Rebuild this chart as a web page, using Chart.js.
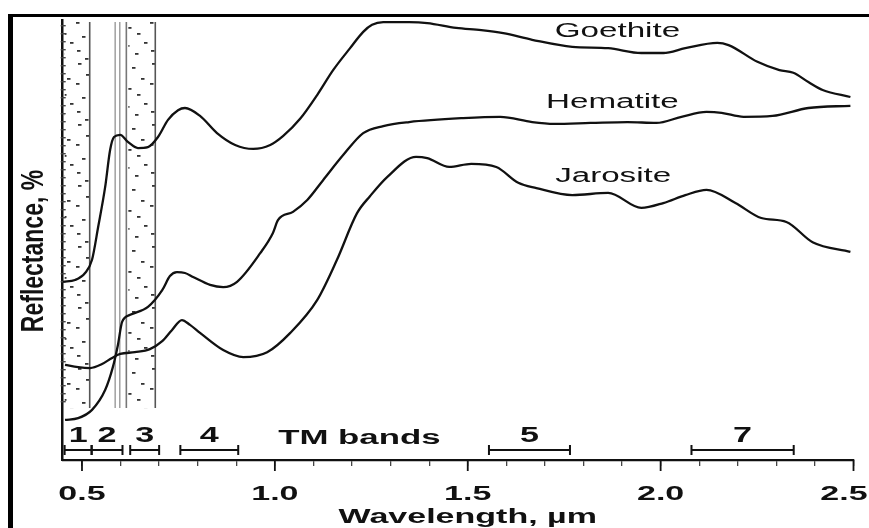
<!DOCTYPE html>
<html>
<head>
<meta charset="utf-8">
<title>Reflectance spectra of iron minerals</title>
<script src="https://cdn.jsdelivr.net/npm/chart.js@4.4.1/dist/chart.umd.min.js"></script>
<style>
    html, body { margin: 0; padding: 0; background: #fff; }
    #wrap { position: relative; width: 869px; height: 528px; overflow: hidden; }
    #frame {
        position: absolute; left: 8px; top: 14px; right: 0; bottom: 0;
        border-left: 5px solid #000; border-top: 3px solid #000;
        pointer-events: none;
    }
</style>
</head>
<body>
<div id="wrap">
    <canvas id="chart" width="869" height="528"></canvas>
    <div id="frame"></div>
</div>
<script>
// Spectra (wavelength in um, reflectance in relative units 0-100)
const goethiteWl = [0.451, 0.482, 0.508, 0.526, 0.542, 0.560, 0.573, 0.583, 0.599, 0.619, 0.645, 0.671, 0.697, 0.723, 0.749, 0.767, 0.806, 0.850, 0.897, 0.944, 0.988, 1.021, 1.066, 1.110, 1.151, 1.195, 1.229, 1.252, 1.281, 1.348, 1.395, 1.470, 1.535, 1.592, 1.667, 1.771, 1.864, 1.950, 2.007, 2.064, 2.147, 2.176, 2.251, 2.308, 2.344, 2.383, 2.420, 2.492];
const goethiteR = [40.5, 40.9, 42.5, 45.5, 53.0, 62.0, 70.5, 73.4, 73.9, 72.3, 70.9, 71.1, 73.4, 77.3, 79.5, 80.0, 78.2, 74.3, 71.6, 70.7, 71.6, 73.6, 77.6, 83.0, 88.6, 93.6, 97.3, 98.9, 99.5, 99.5, 99.3, 98.2, 97.7, 97.0, 95.5, 93.9, 93.6, 92.5, 92.5, 93.6, 94.8, 94.3, 90.5, 88.6, 88.0, 85.9, 84.1, 82.5];

const hematiteWl = [0.456, 0.490, 0.526, 0.560, 0.580, 0.593, 0.604, 0.625, 0.671, 0.708, 0.728, 0.746, 0.767, 0.788, 0.832, 0.866, 0.902, 0.962, 0.995, 1.008, 1.047, 1.084, 1.125, 1.177, 1.229, 1.281, 1.348, 1.488, 1.584, 1.667, 1.724, 1.818, 1.914, 1.989, 2.054, 2.119, 2.158, 2.215, 2.290, 2.383, 2.492];
const hematiteR = [9.1, 9.5, 11.4, 15.9, 21.1, 26.1, 31.4, 33.0, 34.8, 38.6, 41.8, 42.7, 42.5, 41.6, 39.8, 39.3, 40.5, 47.0, 51.6, 54.5, 56.4, 59.1, 63.6, 69.3, 74.3, 75.9, 76.8, 77.7, 78.0, 76.8, 76.4, 76.6, 76.8, 76.6, 78.0, 79.1, 78.9, 78.0, 78.2, 80.0, 80.5];

const jarositeWl = [0.456, 0.490, 0.521, 0.552, 0.578, 0.599, 0.637, 0.676, 0.708, 0.733, 0.759, 0.780, 0.806, 0.866, 0.918, 0.980, 1.040, 1.110, 1.161, 1.213, 1.247, 1.291, 1.366, 1.395, 1.452, 1.509, 1.574, 1.631, 1.678, 1.771, 1.864, 1.950, 2.007, 2.064, 2.119, 2.194, 2.261, 2.326, 2.394, 2.492];
const jarositeR = [21.6, 21.1, 20.9, 21.8, 23.2, 24.1, 24.5, 25.2, 27.0, 29.5, 31.8, 30.7, 28.9, 25.0, 23.4, 24.5, 28.9, 36.4, 45.5, 56.1, 60.0, 64.3, 68.9, 68.6, 66.6, 67.3, 66.6, 63.0, 61.8, 60.2, 60.7, 57.3, 58.4, 60.2, 61.4, 58.4, 55.0, 54.1, 49.5, 47.3];

const curveNames = ['Goethite', 'Hematite', 'Jarosite'];

// Landsat TM bands as marked under the curves
const tmBandNames = ['1', '2', '3', '4', '5', '7'];
const tmBandStart = [0.455, 0.525, 0.625, 0.755, 1.555, 2.080];
const tmBandEnd = [0.525, 0.605, 0.700, 0.905, 1.765, 2.345];

// Stippled (visible) bands and the thin guide lines between them
const stippleStart = [0.45, 0.615];
const stippleEnd = [0.52, 0.69];
const guideLines = [0.586, 0.598];

// Major tick labels of the wavelength axis
const majorTicks = [0.5, 1.0, 1.5, 2.0, 2.5];

const FONT = '"Liberation Sans", Arial, Helvetica, sans-serif';
const STRETCH = 1.7; // the figure is drawn wide, so text is stretched sideways

function toPoints(xs, ys) {
    return xs.map((v, i) => ({ x: v, y: ys[i] }));
}

function wideText(ctx, text, x, y, font, sx, align) {
    ctx.save();
    ctx.font = font;
    ctx.textAlign = align || 'center';
    ctx.textBaseline = 'alphabetic';
    ctx.translate(x, y);
    ctx.scale(sx, 1);
    ctx.fillText(text, 0, 0);
    ctx.restore();
}

function makeStipple(ctx) {
    // irregular tile so the dots do not line up in columns
    const tile = document.createElement('canvas');
    tile.width = 37;
    tile.height = 61;
    const t = tile.getContext('2d');
    t.fillStyle = '#333';
    [[4, 2], [21, 6], [12, 13], [30, 17], [2, 22], [17, 27], [26, 33],
     [8, 36], [33, 42], [15, 45], [3, 50], [24, 53], [11, 58]].forEach(d => {
        t.fillRect(d[0], d[1], 3.5, 1.8);
    });
    return ctx.createPattern(tile, 'repeat');
}

const spectraPlugin = {
    id: 'spectraDecor',
    beforeDatasetsDraw(chart) {
        const { ctx, chartArea, scales: { x, y } } = chart;
        const top = chartArea.top + 2;
        const bottom = y.getPixelForValue(11.8);

        ctx.save();
        // stippled bands
        ctx.fillStyle = makeStipple(ctx);
        stippleStart.forEach((s, i) => {
            const x0 = x.getPixelForValue(s);
            const x1 = x.getPixelForValue(stippleEnd[i]);
            ctx.fillRect(x0 + 2, top, x1 - x0 - 2, bottom - top);
        });

        // ruler-like nubs along the left edge
        ctx.fillStyle = '#444';
        for (let py = top + 3; py < bottom; py += 8) {
            ctx.fillRect(chartArea.left - 2, py, 5, 1.4);
        }

        // band edges
        ctx.lineWidth = 1.6;
        const edges = [stippleEnd[0], stippleStart[1], stippleEnd[1]];
        edges.forEach((v, i) => {
            ctx.strokeStyle = i === 1 ? '#777' : '#555';
            const px = x.getPixelForValue(v);
            ctx.beginPath();
            ctx.moveTo(px, top);
            ctx.lineTo(px, bottom);
            ctx.stroke();
        });
        ctx.strokeStyle = '#999';
        ctx.lineWidth = 1.4;
        guideLines.forEach(v => {
            const px = x.getPixelForValue(v);
            ctx.beginPath();
            ctx.moveTo(px, top);
            ctx.lineTo(px, bottom);
            ctx.stroke();
        });
        ctx.restore();
    },
    afterDraw(chart) {
        const { ctx, chartArea, scales: { x, y } } = chart;
        ctx.save();
        ctx.fillStyle = '#111';
        ctx.strokeStyle = '#111';

        // longer major ticks
        ctx.lineWidth = 1.8;
        majorTicks.forEach(v => {
            const px = x.getPixelForValue(v);
            ctx.beginPath();
            ctx.moveTo(px, chartArea.bottom);
            ctx.lineTo(px, chartArea.bottom + 11);
            ctx.stroke();
        });

        // tick labels
        majorTicks.forEach(v => {
            let px = x.getPixelForValue(v);
            px = Math.min(px, chart.width - 25);
            wideText(ctx, v.toFixed(1), px, chartArea.bottom + 40, 'bold 20px ' + FONT, STRETCH);
        });

        // axis titles
        wideText(ctx, 'Wavelength, \u00b5m', x.getPixelForValue(1.5), chartArea.bottom + 63, 'bold 20px ' + FONT, STRETCH);
        ctx.save();
        ctx.translate(43, y.getPixelForValue(47.5));
        ctx.rotate(-Math.PI / 2);
        ctx.scale(1, 1.35);
        ctx.font = 'bold 23px ' + FONT;
        ctx.textAlign = 'center';
        ctx.textBaseline = 'alphabetic';
        ctx.fillText('Reflectance, %', 0, 0);
        ctx.restore();

        // curve names
        const labelWl = [1.888, 1.875, 1.877];
        const labelR = [96.1, 80.0, 63.2];
        curveNames.forEach((name, i) => {
            wideText(ctx, name, x.getPixelForValue(labelWl[i]), y.getPixelForValue(labelR[i]), '19.5px ' + FONT, STRETCH);
        });

        // TM band bars
        const barY = y.getPixelForValue(2.3);
        ctx.lineWidth = 2;
        tmBandStart.forEach((s, i) => {
            const x0 = x.getPixelForValue(s);
            const x1 = x.getPixelForValue(tmBandEnd[i]);
            ctx.beginPath();
            ctx.moveTo(x0, barY);
            ctx.lineTo(x1, barY);
            ctx.moveTo(x0, barY - 5);
            ctx.lineTo(x0, barY + 5);
            ctx.moveTo(x1, barY - 5);
            ctx.lineTo(x1, barY + 5);
            ctx.stroke();
            wideText(ctx, tmBandNames[i], (x0 + x1) / 2, y.getPixelForValue(4.1), 'bold 22px ' + FONT, 1.55);
        });
        wideText(ctx, 'TM bands', x.getPixelForValue(1.219), y.getPixelForValue(3.6), 'bold 20px ' + FONT, 1.74);

        ctx.restore();
    }
};

function lineSet(label, xs, ys) {
    return {
        label: label,
        data: toPoints(xs, ys),
        borderColor: '#111',
        borderWidth: 2.3,
        pointRadius: 0,
        fill: false,
        cubicInterpolationMode: 'monotone'
    };
}

document.addEventListener('DOMContentLoaded', function() {
    const ctx = document.getElementById('chart').getContext('2d');
    new Chart(ctx, {
        type: 'line',
        data: {
            datasets: [
                lineSet(curveNames[0], goethiteWl, goethiteR),
                lineSet(curveNames[1], hematiteWl, hematiteR),
                lineSet(curveNames[2], jarositeWl, jarositeR)
            ]
        },
        options: {
            responsive: false,
            animation: false,
            layout: { padding: { left: 62.7, right: 15.5, top: 20, bottom: 62 } },
            plugins: {
                legend: { display: false },
                tooltip: { enabled: false }
            },
            scales: {
                x: {
                    type: 'linear',
                    min: 0.45,
                    max: 2.5,
                    ticks: { stepSize: 0.1, includeBounds: false, autoSkip: false, display: false },
                    grid: { drawOnChartArea: false, drawTicks: true, tickLength: 6, color: '#444', lineWidth: 1.3 },
                    border: { display: true, color: '#111', width: 2.2 }
                },
                y: {
                    min: 0,
                    max: 100,
                    ticks: { display: false },
                    grid: { display: false, drawTicks: false },
                    border: { display: true, color: '#111', width: 2.5 }
                }
            }
        },
        plugins: [spectraPlugin]
    });
});
</script>
</body>
</html>
